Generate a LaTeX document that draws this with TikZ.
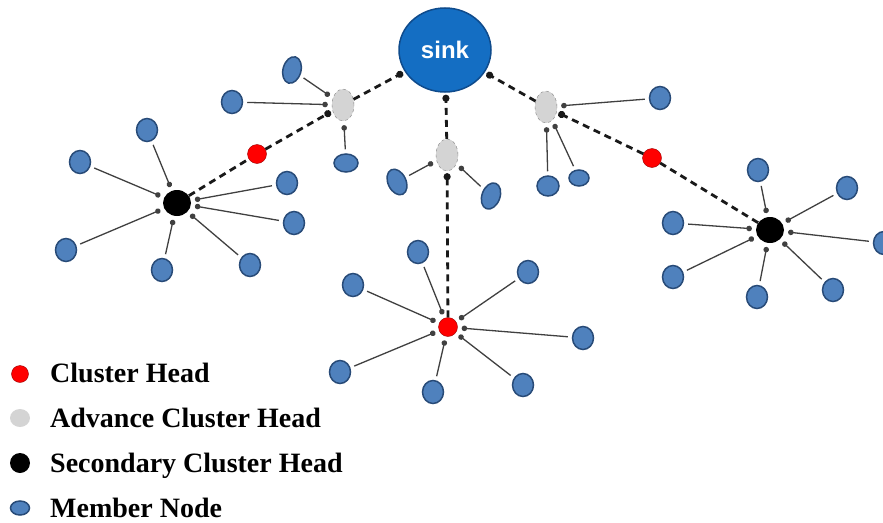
\documentclass[tikz,border=0pt]{standalone}
\usepackage{fontspec}
\setmainfont{Liberation Serif}
\setsansfont{Liberation Sans}
\usetikzlibrary{shapes.geometric,arrows.meta}
\definecolor{memberblue}{RGB}{79,129,189}
\definecolor{memberedge}{RGB}{40,75,120}
\definecolor{sinkblue}{RGB}{20,110,195}
\definecolor{sinkedge}{RGB}{15,75,140}
\definecolor{achgray}{RGB}{212,212,212}

\begin{document}
\begin{tikzpicture}[x=1pt,y=-1pt,
	member/.style={ellipse,draw=memberedge,line width=1.5pt,fill=memberblue,minimum width=21pt,minimum height=23pt,inner sep=0pt},
	ch/.style={circle,draw=red!60!black,fill=red,minimum size=19pt,inner sep=0pt},
	sch/.style={ellipse,fill=black,minimum width=28pt,minimum height=26pt,inner sep=0pt},
	ach/.style={ellipse,draw=gray,dashed,fill=achgray,minimum width=22pt,minimum height=32pt,inner sep=0pt},
	sinknode/.style={ellipse,draw=sinkedge,line width=1.5pt,fill=sinkblue,minimum width=92pt,minimum height=84pt,text=white,font=\sffamily\bfseries\fontsize{24}{24}\selectfont},
	link/.style={draw=black!75,line width=1.3pt,-{Circle[length=5.5pt]},shorten <=4pt,shorten >=4pt},
	hop/.style={draw=black!90,line width=2.8pt,dash pattern=on 7pt off 5pt},
	key/.style={anchor=base west,inner sep=0pt,font=\bfseries\fontsize{28}{30}\selectfont}
		]
	\useasboundingbox (0,0) rectangle (883,522);

	\node[sinknode] (sink) at (445,50) {sink};
	\node[ach] (achL) at (343,105) {};
	\node[ach] (achM) at (447,155) {};
	\node[ach] (achR) at (546,107) {};
	\node[ch] (chL) at (257,154) {};
	\node[ch] (chR) at (652,158) {};
	\node[ch] (chB) at (448,327) {};
	\node[sch] (schL) at (177,203) {};
	\node[sch] (schR) at (770,230) {};

	\node[member,rotate=-15,minimum width=18pt,minimum height=27pt] (a1) at (292,70) {};
	\node[member] (a2) at (232,102) {};
	\node[member,minimum width=24pt,minimum height=18pt] (a3) at (346,163) {};
	\node[member,rotate=25,minimum width=18pt,minimum height=27pt] (b1) at (397,182) {};
	\node[member,rotate=-20,minimum width=18pt,minimum height=27pt] (b2) at (491,196) {};
	\node[member] (c1) at (660,98) {};
	\node[member,minimum width=22pt,minimum height=20pt] (c2) at (548,186) {};
	\node[member,minimum width=20pt,minimum height=16pt] (c3) at (579,178) {};

	\node[member] (l1) at (147,130) {};
	\node[member] (l2) at (80,162) {};
	\node[member] (l3) at (287,183) {};
	\node[member] (l4) at (294,223) {};
	\node[member] (l5) at (66,250) {};
	\node[member] (l6) at (162,270) {};
	\node[member] (l7) at (250,265) {};

	\node[member] (r1) at (758,170) {};
	\node[member] (r2) at (847,188) {};
	\node[member] (r3) at (673,223) {};
	\node[member] (r4) at (884,243) {};
	\node[member] (r5) at (673,277) {};
	\node[member] (r6) at (757,297) {};
	\node[member] (r7) at (833,290) {};

	\node[member] (d1) at (418,252) {};
	\node[member] (d2) at (353,285) {};
	\node[member] (d3) at (528,272) {};
	\node[member] (d4) at (583,338) {};
	\node[member] (d5) at (340,372) {};
	\node[member] (d6) at (433,392) {};
	\node[member] (d7) at (523,385) {};

	\draw[hop] (schL) -- (chL);
	\draw[hop,-{Circle[length=7pt]},shorten >=2pt] (chL) -- (achL);
	\draw[hop,-{Circle[length=7pt]},shorten >=2pt] (achL) -- (sink);
	\draw[hop] (schR) -- (chR);
	\draw[hop,-{Circle[length=7pt]},shorten >=2pt] (chR) -- (achR);
	\draw[hop,-{Circle[length=7pt]},shorten >=2pt] (achR) -- (sink);
	\draw[hop,-{Circle[length=7pt]},shorten >=2pt] (chB) -- (achM);
	\draw[hop,-{Circle[length=7pt]},shorten >=2pt] (achM) -- (sink);

	\draw[link] (a1) -- (achL);
	\draw[link] (a2) -- (achL);
	\draw[link] (a3) -- (achL);
	\draw[link] (b1) -- (achM);
	\draw[link] (b2) -- (achM);
	\draw[link] (c1) -- (achR);
	\draw[link] (c2) -- (achR);
	\draw[link] (c3) -- (achR);

	\draw[link] (l1) -- (schL);
	\draw[link] (l2) -- (schL);
	\draw[link] (l3) -- (schL);
	\draw[link] (l4) -- (schL);
	\draw[link] (l5) -- (schL);
	\draw[link] (l6) -- (schL);
	\draw[link] (l7) -- (schL);

	\draw[link] (r1) -- (schR);
	\draw[link] (r2) -- (schR);
	\draw[link] (r3) -- (schR);
	\draw[link] (r4) -- (schR);
	\draw[link] (r5) -- (schR);
	\draw[link] (r6) -- (schR);
	\draw[link] (r7) -- (schR);

	\draw[link] (d1) -- (chB);
	\draw[link] (d2) -- (chB);
	\draw[link] (d3) -- (chB);
	\draw[link] (d4) -- (chB);
	\draw[link] (d5) -- (chB);
	\draw[link] (d6) -- (chB);
	\draw[link] (d7) -- (chB);

	\node[ch,minimum size=17pt] (keyCH) at (20,374) {};
	\node[ellipse,fill=achgray,minimum width=20pt,minimum height=18pt,inner sep=0pt] (keyACH) at (20,418) {};
	\node[sch,minimum width=20pt,minimum height=20pt] (keySCH) at (20,463) {};
	\node[member,minimum width=19pt,minimum height=14pt] (keyMember) at (20,508) {};
	\node[key] (txtCH) at (50,382) {Cluster Head};
	\node[key] (txtACH) at (50,427) {Advance Cluster Head};
	\node[key] (txtSCH) at (50,472) {Secondary Cluster Head};
	\node[key] (txtMember) at (50,517) {Member Node};
\end{tikzpicture}
\end{document}
